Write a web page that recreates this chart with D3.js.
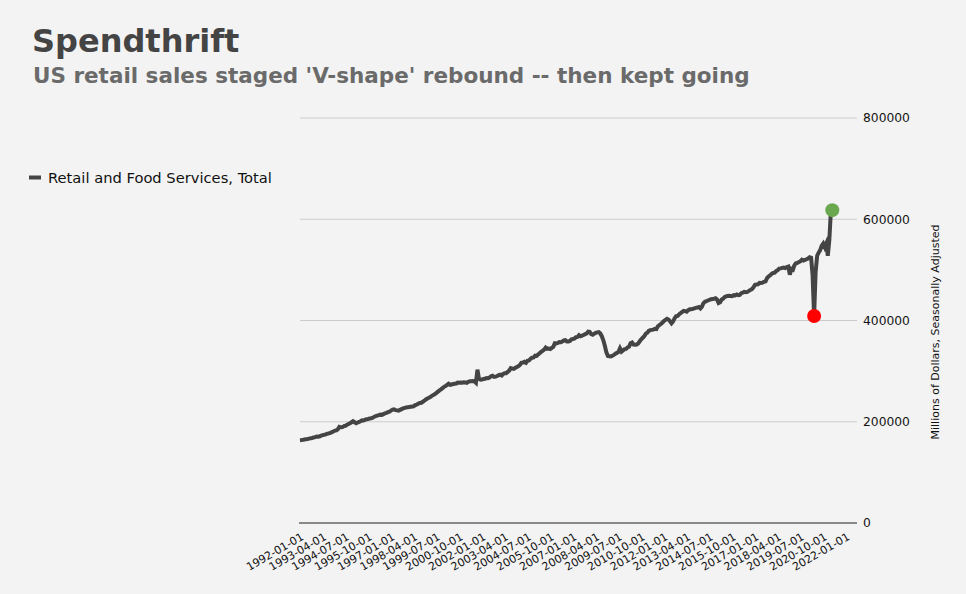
<!DOCTYPE html>
<html>
<head>
<meta charset="utf-8">
<script src="https://cdn.jsdelivr.net/npm/d3@7/dist/d3.min.js"></script>
<style>
  html, body { margin: 0; padding: 0; background: #f3f3f3; }
  svg { display: block; font-family: "DejaVu Sans", Verdana, sans-serif; }
</style>
</head>
<body>
<svg id="chart" width="966" height="594"></svg>
<script>
// ---- Data ----
const titleText = "Spendthrift";
const subtitleText = "US retail sales staged 'V-shape' rebound -- then kept going";
const seriesName = "Retail and Food Services, Total";
const yAxisTitle = "Millions of Dollars, Seasonally Adjusted";
const startMonth = "1992-01-01";

// Monthly values, millions of dollars, Jan 1992 .. Apr 2021
const salesValues = [
  163500, 163800, 164200, 165000, 165600, 166000, 166700, 167300, 168000, 169000, 169500, 170800, // 1992
  170600, 171200, 172500, 173500, 174200, 175000, 176300, 177000, 178200, 179500, 180800, 182500, // 1993
  183000, 185500, 190000, 189000, 189500, 191500, 192000, 194000, 195500, 197000, 199000, 201000, // 1994
  199000, 197000, 198500, 199500, 201000, 203000, 202500, 204000, 205000, 205500, 206500, 207000, // 1995
  208000, 210000, 211000, 212000, 213000, 214000, 213500, 215000, 216500, 217500, 219000, 220000, // 1996
  222000, 224000, 224500, 223000, 222500, 222000, 223500, 225000, 226500, 227500, 228000, 228500, // 1997
  229000, 229500, 230000, 230500, 233000, 234000, 235500, 237000, 237500, 239500, 241500, 244000, // 1998
  246000, 247500, 249000, 251000, 253000, 254500, 257000, 259500, 262000, 264000, 266500, 269000, // 1999
  270500, 273000, 275000, 273000, 273500, 274500, 275000, 275500, 277500, 277000, 277500, 277000, // 2000
  278000, 277500, 277000, 279000, 280000, 280000, 280500, 280000, 277000, 303000, 285000, 283000, // 2001
  283500, 284500, 285000, 286500, 286000, 287500, 290000, 291000, 288500, 289000, 290500, 292000, // 2002
  293000, 291500, 294500, 296000, 296000, 298500, 301000, 306000, 305000, 304500, 306500, 308000, // 2003
  310000, 312500, 316500, 317000, 318500, 316500, 320500, 321000, 324500, 326500, 327000, 330500, // 2004
  330000, 333000, 335500, 338000, 340000, 342500, 346500, 344000, 344500, 343500, 346000, 348000, // 2005
  355000, 354500, 355500, 357500, 357000, 358500, 360500, 361000, 358500, 358500, 359500, 363000, // 2006
  363500, 364500, 367000, 367500, 371000, 369000, 370000, 371500, 373000, 374000, 378000, 377500, // 2007
  373000, 372000, 374000, 375500, 376500, 377000, 374500, 369000, 361000, 350000, 337000, 330000, // 2008
  329500, 329000, 330500, 332000, 334500, 336000, 338000, 345000, 338500, 341000, 343500, 344000, // 2009
  347000, 348500, 355000, 356500, 352500, 352000, 352500, 354500, 359000, 363000, 366000, 369000, // 2010
  374000, 376000, 379500, 381000, 381500, 382000, 383500, 383000, 388500, 391000, 393000, 396000, // 2011
  399000, 401500, 403500, 402000, 398500, 394500, 398000, 404500, 408500, 409000, 412500, 414500, // 2012
  417000, 419000, 418500, 417500, 420500, 422000, 422000, 423000, 424000, 425000, 425500, 426500, // 2013
  424000, 427500, 434000, 437000, 438000, 439500, 441000, 442000, 442500, 443000, 444000, 441500, // 2014
  434500, 436000, 441000, 443000, 446000, 447500, 448500, 449000, 448500, 448000, 450000, 449500, // 2015
  451500, 450000, 450500, 454000, 455000, 456500, 456000, 456500, 458500, 460500, 462000, 465500, // 2016
  470500, 471000, 471500, 474500, 474000, 475000, 476500, 477500, 484000, 487000, 489500, 492000, // 2017
  494000, 494500, 497500, 499500, 502500, 503000, 504000, 504500, 503500, 505500, 506500, 490500, // 2018
  502000, 500500, 509000, 513000, 514000, 515500, 517000, 520000, 518500, 519500, 521000, 522500, // 2019
  525000, 524000, 490000, 409000, 495000, 528000, 534000, 539000, 548000, 552000, 545000, 552000, // 2020
  528000, 560000, 612000, 618000                                                                  // 2021
];

// highlighted points: the pandemic trough (red) and the latest high (green)
const markerDates = ["2020-04-01", "2021-04-01"];
const markerColors = ["#ff0000", "#6aa84f"];

const xTickLabels = [
  "1992-01-01","1993-04-01","1994-07-01","1995-10-01","1997-01-01","1998-04-01","1999-07-01",
  "2000-10-01","2002-01-01","2003-04-01","2004-07-01","2005-10-01","2007-01-01","2008-04-01",
  "2009-07-01","2010-10-01","2012-01-01","2013-04-01","2014-07-01","2015-10-01","2017-01-01",
  "2018-04-01","2019-07-01","2020-10-01","2022-01-01"
];
const yTickValues = [0, 200000, 400000, 600000, 800000];

// ---- Build series ----
const parse = d3.utcParse("%Y-%m-%d");
const t0 = parse(startMonth);
const series = salesValues.map((v, i) => ({ date: d3.utcMonth.offset(t0, i), value: v }));
const fmt = d3.utcFormat("%Y-%m-%d");
const markers = markerDates.map((ds, i) => {
  const p = series.find(d => fmt(d.date) === ds);
  return { date: p.date, value: p.value, color: markerColors[i] };
});

// ---- Layout ----
const svg = d3.select("#chart");
const plotLeft = 300, plotRight = 857, plotTop = 118, plotBottom = 523;

const x = d3.scaleUtc()
  .domain([parse("1992-01-01"), parse("2022-01-01")])
  .range([plotLeft, 846]);
const y = d3.scaleLinear().domain([0, 800000]).range([plotBottom, plotTop]);

// gridlines
svg.append("g")
  .selectAll("line")
  .data(yTickValues.filter(v => v > 0))
  .join("line")
  .attr("x1", plotLeft).attr("x2", plotRight)
  .attr("y1", d => y(d)).attr("y2", d => y(d))
  .attr("stroke", "#cccccc").attr("stroke-width", 1);

// right y axis
const yAxis = d3.axisRight(y).tickValues(yTickValues).tickSize(0).tickPadding(6)
  .tickFormat(d3.format("d"));
const gy = svg.append("g").attr("transform", `translate(${plotRight},0)`).call(yAxis);
gy.select(".domain").remove();
gy.selectAll("text").attr("font-size", 12.3).attr("fill", "#111")
  .attr("font-family", "DejaVu Sans, sans-serif");

// bottom axis line
svg.append("line")
  .attr("x1", plotLeft - 1).attr("x2", plotRight)
  .attr("y1", y(0)).attr("y2", y(0))
  .attr("stroke", "#666").attr("stroke-width", 1.5);

// x axis tick labels
const xAxis = d3.axisBottom(x)
  .tickValues(xTickLabels.map(parse))
  .tickSize(0)
  .tickFormat(fmt);
const gx = svg.append("g").attr("transform", `translate(0,${plotBottom})`).call(xAxis);
gx.select(".domain").remove();
gx.selectAll("text")
  .attr("font-size", 11)
  .attr("fill", "#111")
  .attr("font-family", "DejaVu Sans, sans-serif")
  .attr("text-anchor", "end")
  .attr("dy", null)
  .attr("y", 0)
  .attr("transform", "translate(4,16) rotate(-30)");

// line
const line = d3.line().x(d => x(d.date)).y(d => y(d.value));
svg.append("path")
  .datum(series)
  .attr("d", line)
  .attr("fill", "none")
  .attr("stroke", "#444444")
  .attr("stroke-width", 4);

// markers
svg.append("g").selectAll("circle")
  .data(markers)
  .join("circle")
  .attr("cx", d => x(d.date))
  .attr("cy", d => y(d.value))
  .attr("r", 7)
  .attr("fill", d => d.color);

// y axis title
svg.append("text")
  .attr("transform", "translate(939,332) rotate(-90)")
  .attr("text-anchor", "middle")
  .attr("font-size", 11)
  .attr("fill", "#111")
  .text(yAxisTitle);

// titles
svg.append("text").attr("x", 32).attr("y", 52)
  .attr("font-size", 32).attr("font-weight", "bold").attr("fill", "#444444")
  .text(titleText);
svg.append("text").attr("x", 33).attr("y", 83)
  .attr("font-size", 21.5).attr("font-weight", "bold").attr("fill", "#6a6a6a")
  .text(subtitleText);

// legend
svg.append("line").attr("x1", 29).attr("x2", 41).attr("y1", 177.5).attr("y2", 177.5)
  .attr("stroke", "#444444").attr("stroke-width", 4);
svg.append("text").attr("x", 48).attr("y", 182.5)
  .attr("font-size", 14.7).attr("fill", "#111")
  .text(seriesName);
</script>
</body>
</html>
